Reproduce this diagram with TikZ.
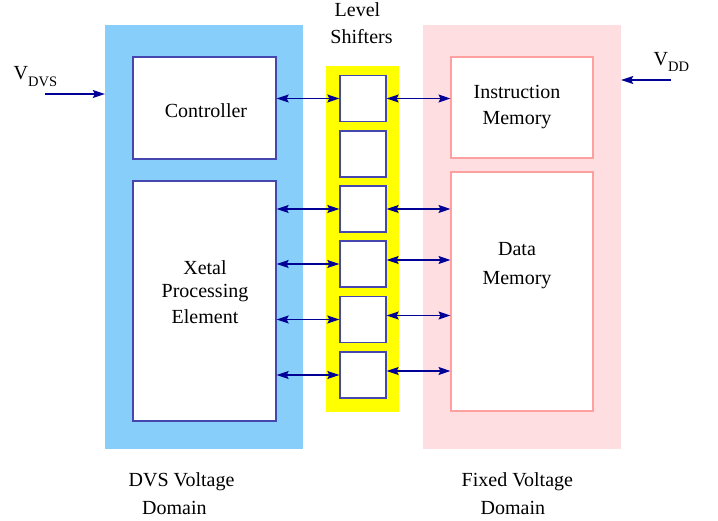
\documentclass[tikz,border=0pt]{standalone}
\usepackage{fontspec}
\setmainfont{Liberation Serif}
\usetikzlibrary{arrows.meta}
\definecolor{dvsblue}{RGB}{135,206,250}
\definecolor{fixpink}{RGB}{255,222,225}
\definecolor{shiftyellow}{RGB}{255,255,0}
\definecolor{navyline}{RGB}{0,0,150}
\definecolor{boxblue}{RGB}{70,70,175}
\definecolor{boxpink}{RGB}{255,160,160}
\tikzset{
  x=1pt, y=-1pt,
  txt/.style={font=\fontsize{20}{24}\selectfont, inner sep=0pt},
  area/.style={fill=#1, draw=none, inner sep=0pt},
  unitbox/.style={draw=boxblue, line width=1.3pt, fill=white, inner sep=0pt},
  membox/.style={draw=boxpink, line width=1.1pt, fill=white, inner sep=0pt},
  shiftbox/.style={draw=boxblue, line width=1.3pt, fill=white, minimum width=46pt, minimum height=46pt, inner sep=0pt},
  link/.style={draw=navyline, line width=1.2pt, {Stealth[length=12pt,width=8pt,inset=2pt]}-{Stealth[length=12pt,width=8pt,inset=2pt]}},
  feed/.style={draw=navyline, line width=1.2pt, -{Stealth[length=12pt,width=8pt,inset=2pt]}}
}
\begin{document}
\begin{tikzpicture}
\useasboundingbox (0,0) rectangle (718,521);
% voltage domains and level shifter strip
\node[area=dvsblue, minimum width=198pt, minimum height=424pt] (dvs) at (204,237) {};
\node[area=fixpink, minimum width=198pt, minimum height=424pt] (fixed) at (522,237) {};
\node[area=shiftyellow, minimum width=73pt, minimum height=346pt] (strip) at (362.5,239) {};
% functional blocks
\node[unitbox, minimum width=143pt, minimum height=102pt] (ctrl) at (204.5,108) {};
\node[unitbox, minimum width=143pt, minimum height=240pt] (xetal) at (204.5,301) {};
\node[membox, minimum width=142pt, minimum height=101pt] (imem) at (522,107.5) {};
\node[membox, minimum width=142pt, minimum height=239pt] (dmem) at (522,291.5) {};
% level shifter cells
\foreach \i/\y in {1/98.5,2/154,3/209,4/264,5/319.5,6/375}
  \node[shiftbox] (ls\i) at (363,\y) {};
% labels
\node[txt, anchor=base] at (206,117.3) {Controller};
\node[txt, anchor=base] at (205,275) {Xetal};
\node[txt, anchor=base] at (205,297.5) {Processing};
\node[txt, anchor=base] at (205,324) {Element};
\node[txt, anchor=base] at (517,99) {Instruction};
\node[txt, anchor=base] at (517,124.3) {Memory};
\node[txt, anchor=base] at (517,256) {Data};
\node[txt, anchor=base] at (517,285) {Memory};
\node[txt, anchor=base] at (357.5,17) {Level};
\node[txt, anchor=base] at (361.5,44) {Shifters};
\node[txt, anchor=base west] at (128.5,486) {DVS Voltage};
\node[txt, anchor=base west] at (142,514.5) {Domain};
\node[txt, anchor=base west] at (461.5,486) {Fixed Voltage};
\node[txt, anchor=base west] at (480.5,514.5) {Domain};
\node[txt, anchor=base west] (vdvs) at (13.5,80) {V\raisebox{-7pt}{\fontsize{14.5}{16}\selectfont DVS}};
\node[txt, anchor=base west] (vdd) at (653.5,66) {V\raisebox{-6pt}{\fontsize{14.5}{16}\selectfont DD}};
\coordinate (dvsin) at (45,94);
\coordinate (ddin) at (671,80);
% supply feeds
\draw[feed] (dvsin) -- (dvsin -| dvs.west);
\draw[feed] (ddin) -- (ddin -| fixed.east);
% links between blocks and level shifters
\draw[link] (ctrl.east |- ls1.west) -- (ls1.west);
\draw[link] (ls1.east) -- (imem.west |- ls1.east);
\foreach \i in {3,4,5,6}
  \draw[link] (xetal.east |- ls\i.west) -- (ls\i.west);
\draw[link] (ls3.east) -- (dmem.west |- ls3.east);
\foreach \i in {4,5,6}{
  \coordinate (rp\i) at ([yshift=4pt]ls\i.east);
  \draw[link] (rp\i) -- (dmem.west |- rp\i);
}
\end{tikzpicture}
\end{document}
